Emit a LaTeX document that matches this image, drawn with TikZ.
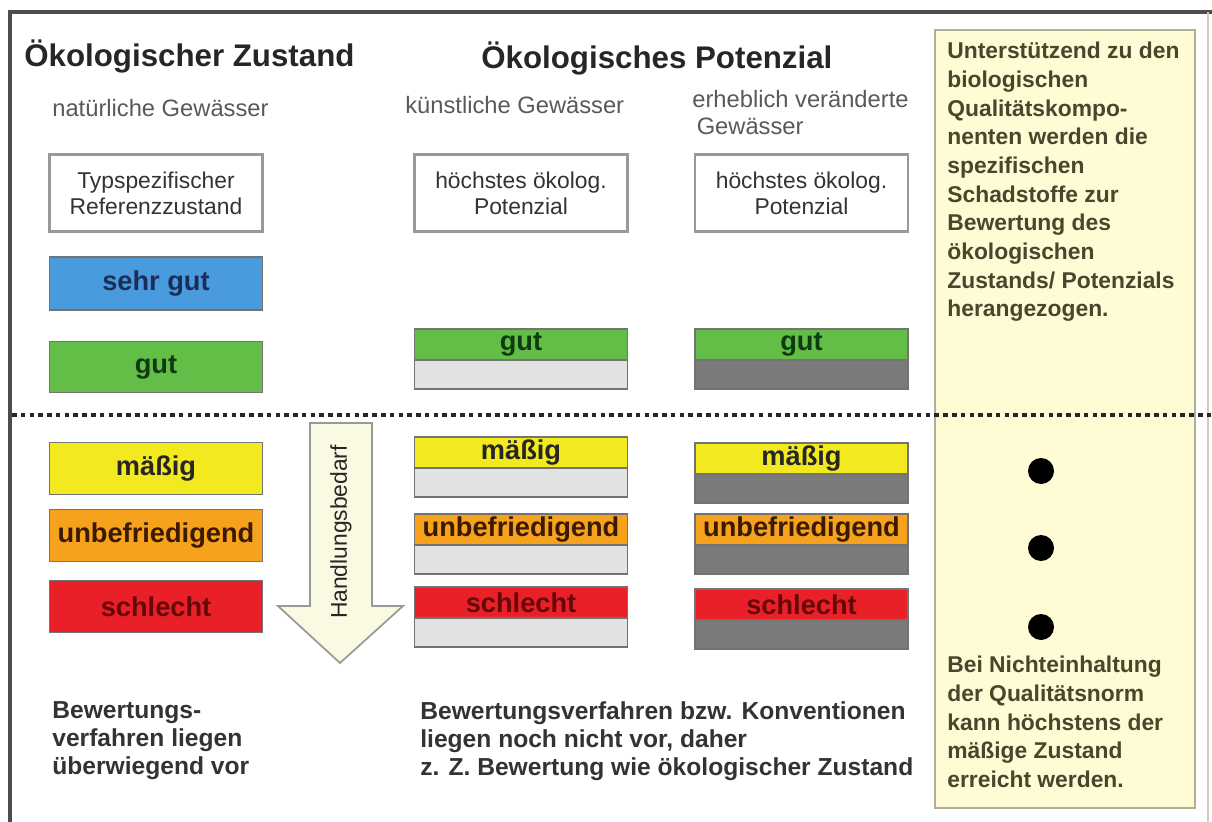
\documentclass[tikz,border=0pt]{standalone}
\usepackage{fontspec}
\setmainfont{Liberation Sans}
\usepackage{xcolor}
\usepackage{tikz}
\usetikzlibrary{positioning}
\definecolor{wrrlblue}{RGB}{74,154,222}
\definecolor{wrrlgreen}{RGB}{98,190,70}
\definecolor{wrrlyellow}{RGB}{242,234,30}
\definecolor{wrrlorange}{RGB}{246,162,28}
\definecolor{wrrlred}{RGB}{234,32,40}
\definecolor{lightbase}{RGB}{226,226,226}
\definecolor{darkbase}{RGB}{122,122,122}
\definecolor{notefill}{RGB}{255,251,212}
\definecolor{noteline}{RGB}{176,176,150}
\definecolor{notetext}{RGB}{72,70,44}
\definecolor{arrowfill}{RGB}{250,249,226}

\begin{document}
\begin{tikzpicture}[x=0.02cm, y=-0.02cm,
        heading/.style={font=\fontsize{17.8}{21}\selectfont\bfseries, text=black!85, inner sep=0pt},
        subhead/.style={font=\fontsize{13.5}{15.3}\selectfont, text=black!65, align=left, inner sep=0pt},
        refbox/.style={rectangle, draw=black!40, line width=1.2pt, fill=white, minimum width=4.26cm, minimum height=1.54cm, align=center, font=\fontsize{13}{14.7}\selectfont, text=black!80},
        band/.style={rectangle, draw=black!55, line width=0.8pt, outer sep=0pt, minimum width=4.26cm, minimum height=1.03cm, inner sep=0pt, font=\fontsize{15.5}{17}\selectfont\bfseries},
        bandtop/.style={band, minimum height=0.62cm, anchor=north},
        bandbase/.style={rectangle, draw=black!55, line width=0.8pt, outer sep=0pt, minimum width=4.26cm, minimum height=0.58cm, inner sep=0pt},
        remark/.style={font=\fontsize{14}{15.9}\selectfont\bfseries, text=black!80, align=left, inner sep=0pt, anchor=north west},
        note/.style={font=\fontsize{13}{16.3}\selectfont\bfseries, text=notetext, align=left, inner sep=0pt, anchor=north west},
        dot/.style={circle, fill=black, minimum size=0.52cm, inner sep=0pt},
        sepline/.style={draw=black!85, line width=2pt, dash pattern=on 2.6pt off 2.4pt}]

    \useasboundingbox (0,0) rectangle (1212,821);

    % outer frame
    \draw[black!70, line width=2pt] (10,830) -- (10,12) -- (1212,12);
    \draw[black!20, line width=1pt] (1208,12) -- (1208,830);

    % side panel
    \node [rectangle, draw=noteline, line width=1.5pt, fill=notefill, minimum width=5.2cm, minimum height=15.56cm] (panel) at (1065,419) {};
    \node [note] (notetop) at (947,42) {Unterstützend zu den\\biologischen\\Qualitätskompo-\\nenten werden die\\spezifischen\\Schadstoffe zur\\Bewertung des\\ökologischen\\Zustands/ Potenzials\\herangezogen.};
    \node [dot] (dot1) at (1041,471) {};
    \node [dot] (dot2) at (1041,548) {};
    \node [dot] (dot3) at (1041,627) {};
    \node [note] (notebottom) at (947,656) {Bei Nichteinhaltung\\der Qualitätsnorm\\kann höchstens der\\mäßige Zustand\\erreicht werden.};

    % headings
    \node [heading, anchor=base west] (zustand) at (24,67) {Ökologischer Zustand};
    \node [heading, anchor=base west] (potenzial) at (481,69) {Ökologisches Potenzial};
    \node [subhead, anchor=base west] (natuerlich) at (52,116) {natürliche Gewässer};
    \node [subhead, anchor=base west] (kuenstlich) at (405,113) {künstliche Gewässer};
    \node [subhead, anchor=north west] (erheblich) at (692,90) {erheblich veränderte\\\hspace*{2.5pt}Gewässer};

    % reference boxes
    \node [refbox] (natref) at (156,193) {Typspezifischer\\Referenzzustand};
    \node [refbox] (kueref) at (521,193) {höchstes ökolog.\\Potenzial};
    \node [refbox] (ervref) at (801.5,193) {höchstes ökolog.\\Potenzial};

    % natuerliche Gewaesser
    \node [band, fill=wrrlblue, minimum height=1.06cm, text={rgb,255:red,28;green,45;blue,90}] (natsehrgut) at (156,283.5) {sehr gut};
    \node [band, fill=wrrlgreen, text={rgb,255:red,15;green,58;blue,18}] (natgut) at (156,367) {gut};
    \node [band, fill=wrrlyellow, text=black!85] (natmaessig) at (156,468.5) {mäßig};
    \node [band, fill=wrrlorange, text={rgb,255:red,58;green,26;blue,0}] (natunbefr) at (156,535.5) {unbefriedigend};
    \node [band, fill=wrrlred, text={rgb,255:red,100;green,8;blue,8}] (natschlecht) at (156,606.5) {schlecht};

    % kuenstliche Gewaesser
    \node [bandtop, fill=wrrlgreen, text={rgb,255:red,15;green,58;blue,18}] (kuegut) at (521,329) {gut};
    \node [bandbase, fill=lightbase, below=0pt of kuegut] (kuegutbase) {};
    \node [bandtop, fill=wrrlyellow, text=black!85] (kuemaessig) at (521,437) {mäßig};
    \node [bandbase, fill=lightbase, below=0pt of kuemaessig] (kuemaessigbase) {};
    \node [bandtop, fill=wrrlorange, text={rgb,255:red,58;green,26;blue,0}] (kueunbefr) at (521,514) {unbefriedigend};
    \node [bandbase, fill=lightbase, below=0pt of kueunbefr] (kueunbefrbase) {};
    \node [bandtop, fill=wrrlred, text={rgb,255:red,100;green,8;blue,8}] (kueschlecht) at (521,587) {schlecht};
    \node [bandbase, fill=lightbase, below=0pt of kueschlecht] (kueschlechtbase) {};

    % erheblich veraenderte Gewaesser
    \node [bandtop, fill=wrrlgreen, text={rgb,255:red,15;green,58;blue,18}] (ervgut) at (801.5,329) {gut};
    \node [bandbase, fill=darkbase, below=0pt of ervgut] (ervgutbase) {};
    \node [bandtop, fill=wrrlyellow, text=black!85] (ervmaessig) at (801.5,443) {mäßig};
    \node [bandbase, fill=darkbase, below=0pt of ervmaessig] (ervmaessigbase) {};
    \node [bandtop, fill=wrrlorange, text={rgb,255:red,58;green,26;blue,0}] (ervunbefr) at (801.5,514) {unbefriedigend};
    \node [bandbase, fill=darkbase, below=0pt of ervunbefr] (ervunbefrbase) {};
    \node [bandtop, fill=wrrlred, text={rgb,255:red,100;green,8;blue,8}] (ervschlecht) at (801.5,589) {schlecht};
    \node [bandbase, fill=darkbase, below=0pt of ervschlecht] (ervschlechtbase) {};

    % good / not good
    \draw [sepline] (12,415) -- (1212,415);

    % Handlungsbedarf
    \draw [fill=arrowfill, draw=black!40, line width=1pt] (310,423) -- (372,423) -- (372,606) -- (403,606) -- (340,663) -- (278,606) -- (310,606) -- cycle;
    \node [rotate=90, font=\fontsize{13}{15}\selectfont, text=black!85, inner sep=0pt] (bedarf) at (341,532) {Handlungsbedarf};

    % remarks
    \node [remark] (remarknat) at (52,701) {Bewertungs-\\verfahren liegen\\überwiegend vor};
    \node [remark] (remarkpot) at (420,701) {Bewertungsverfahren bzw. Konventionen\\liegen noch nicht vor, daher\\z. Z. Bewertung wie ökologischer Zustand};
\end{tikzpicture}
\end{document}
